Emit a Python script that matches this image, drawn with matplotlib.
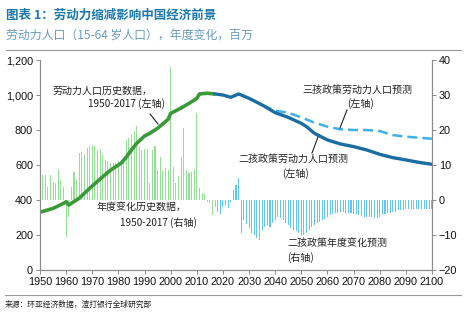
import matplotlib
matplotlib.use("Agg")
import matplotlib.pyplot as plt
from matplotlib.lines import Line2D
from matplotlib.ticker import FuncFormatter

plt.rcParams['font.family'] = ['Liberation Sans', 'Noto Sans CJK SC', 'DejaVu Sans']
CJK = ['Noto Sans CJK SC', 'Liberation Sans', 'DejaVu Sans']

# ---- data ----
hist_years = [1950, 1955, 1959, 1960, 1961, 1962, 1965, 1969, 1974, 1977, 1981, 1983,
              1985, 1987, 1990, 1992, 1995, 1998, 1999, 2000, 2003, 2006, 2009, 2010,
              2011, 2014, 2017]
hist_labor = [330, 352, 381, 390, 371, 381, 410, 467, 533, 571, 610, 645,
              686, 724, 766, 781, 810, 848, 861, 895, 918, 943, 971, 981,
              1006, 1010, 1006]

two_years = [2017, 2020, 2023, 2026, 2030, 2035, 2040, 2045, 2050, 2052, 2055, 2060,
             2065, 2070, 2075, 2080, 2085, 2090, 2095, 2100]
two_labor = [1006, 1000, 987, 1006, 981, 943, 899, 872, 838, 819, 781, 743,
             720, 705, 686, 661, 642, 629, 615, 604]

three_years = [2035, 2040, 2045, 2050, 2055, 2060, 2065, 2070, 2075, 2080, 2085, 2090,
               2095, 2100]
three_labor = [943, 910, 899, 872, 842, 819, 804, 800, 800, 794, 771, 762, 756, 750]

hist_chg_years = list(range(1950, 2018))
hist_chg = [7.0, 7.0, 7.2, 3.8, 7.1, 5.2, 4.8, 8.6, 5.7, 3.8,
            -10.5, -5.0, 3.8, 8.1, 5.7, 13.3, 13.8, 12.9, 14.8, 15.4,
            15.7, 15.4, 14.3, 14.5, 12.9, 11.4, 11.0, 10.5, 10.7, 10.5,
            11.0, 11.4, 10.5, 17.1, 17.6, 18.6, 19.5, 21.1, 15.2, 14.3,
            14.5, 14.5, 4.8, 14.3, 15.4, 8.6, 12.2, 8.4, 9.0, 8.6,
            38.0, 9.3, 4.8, 6.9, 12.2, 20.5, 8.6, 7.6, 8.1, 8.6,
            24.8, 3.3, 1.9, 1.7, -0.5, -1.0, -4.3, -1.9]

proj_chg_years = list(range(2018, 2101))
proj_chg = [-3.3, -4.0, -1.9, -1.4, -2.4, -0.5, 2.9, 4.3, 6.2, -9.5,
            -5.7, -6.9, -8.1, -9.5, -10.0, -11.0, -11.4, -9.0, -7.6, -7.1,
            -7.6, -6.7, -5.7, -4.8, -5.2, -5.7, -6.7, -7.1, -8.1, -8.6,
            -9.0, -9.5, -10.3, -10.0, -9.5, -8.6, -7.6, -7.1, -6.7, -6.2,
            -5.7, -5.5, -4.8, -4.3, -4.0, -3.8, -3.6, -3.3, -3.3, -3.6,
            -3.8, -3.8, -4.0, -4.0, -4.3, -4.6, -4.8, -4.8, -4.8, -5.0,
            -5.2, -5.2, -4.8, -4.3, -4.0, -3.8, -3.6, -3.3, -3.3, -3.0,
            -2.9, -2.9, -2.7, -2.7, -2.7, -2.7, -2.7, -2.7, -2.7, -2.7,
            -2.7, -2.7, -2.7]

left_ticks = [0, 200, 400, 600, 800, 1000, 1200]
right_ticks = [-20, -10, 0, 10, 20, 30, 40]
x_ticks = list(range(1950, 2101, 10))

# ---- figure ----
fig = plt.figure(figsize=(4.77, 3.21), dpi=100)
ax = fig.add_axes([0.0839, 0.159, 0.8218, 0.654])
ax2 = ax.twinx()
ax.set_zorder(ax2.get_zorder() + 1)
ax.patch.set_visible(False)

ax2.bar(hist_chg_years, hist_chg, width=0.4, color='#95de95', linewidth=0)
ax2.bar(proj_chg_years, proj_chg, width=0.4, color='#62c8ea', linewidth=0)

ax.plot(hist_years, hist_labor, color='#3a9a3a', lw=2.6, solid_capstyle='butt')
ax.plot(three_years, three_labor, color='#3db2e6', lw=1.8, ls=(0, (4, 2)))
ax.plot(two_years, two_labor, color='#1a6da0', lw=2.4)

ax.set_xlim(1950, 2100)
ax.set_ylim(0, 1200)
ax2.set_ylim(-20, 40)
ax.set_xticks(x_ticks)
ax.set_yticks(left_ticks)
ax2.set_yticks(right_ticks)
ax.yaxis.set_major_formatter(FuncFormatter(lambda v, p: f"{int(v):,}"))

for a in (ax, ax2):
    for s in a.spines.values():
        s.set_color('#8c8c8c')
        s.set_linewidth(0.8)
    a.spines['top'].set_visible(False)
    a.tick_params(labelsize=7.8, length=3, width=0.7, color='#8c8c8c', pad=2,
                  labelcolor='#111111')

# ---- annotations ----
tk = dict(fontsize=7.2, color='#222222', family=CJK)

def ftext(x, y, s, ha='left'):
    fig.text(x / 477, 1 - y / 321, s, ha=ha, va='center', **tk)

ftext(53, 91, "劳动力人口历史数据，")
ftext(88, 104, "1950-2017 (左轴)")
ftext(97, 208, "年度变化历史数据，")
ftext(120, 223, "1950-2017 (右轴)")
ftext(302, 90, "三孩政策劳动力人口预测")
ftext(347, 104, "(左轴)")
ftext(238, 159, "二孩政策劳动力人口预测")
ftext(282, 174, "(左轴)")
ftext(287, 243, "二孩政策年度变化预测")
ftext(287, 258, "(右轴)")

def fline(x0, y0, x1, y1):
    fig.add_artist(Line2D([x0 / 477, x1 / 477], [1 - y0 / 321, 1 - y1 / 321],
                          color='#222222', lw=0.8))

fline(150, 114, 158, 124)
fline(347, 110, 340, 128)
fline(312, 153, 318, 137)

# ---- titles / separators / source ----
fig.text(6 / 477, 1 - 15 / 321, "图表 1：劳动力缩减影响中国经济前景", fontsize=9,
         fontweight='bold', color='#1a78ad', va='center', family=CJK)
fig.text(6 / 477, 1 - 35 / 321, "劳动力人口（15-64 岁人口），年度变化，百万", fontsize=8.6,
         style='italic', color='#6a9cc2', va='center', family=CJK)
fig.add_artist(Line2D([6 / 477, 461 / 477], [1 - 49.5 / 321] * 2, color='#9a9a9a', lw=0.8))
fig.add_artist(Line2D([5 / 477, 461 / 477], [1 - 295 / 321] * 2, color='#9a9a9a', lw=0.8))
fig.text(5 / 477, 1 - 305 / 321, "来源：环亚经济数据，渣打银行全球研究部", fontsize=5.6,
         color='#222222', va='center', family=CJK)

fig.savefig("out.png", dpi=100)
